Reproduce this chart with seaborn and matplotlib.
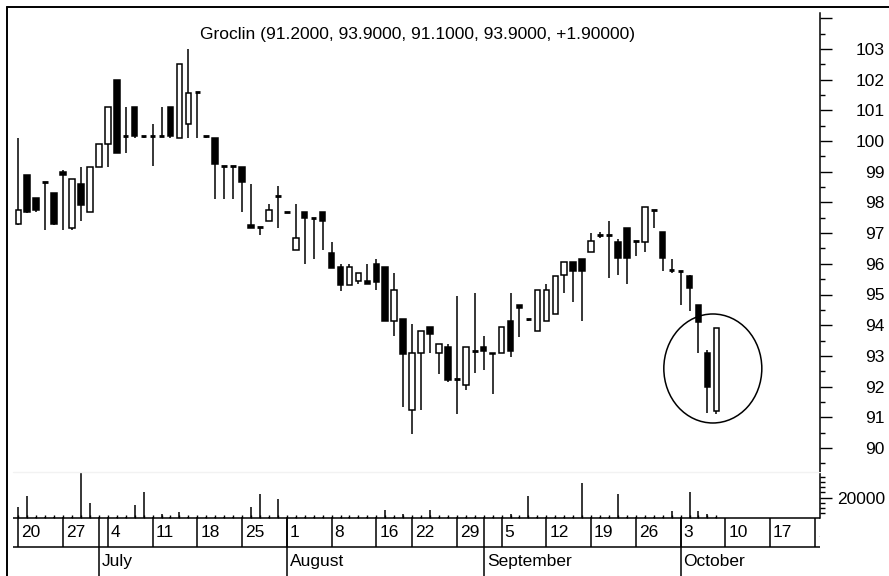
import numpy as np
import matplotlib
matplotlib.use("Agg")
import matplotlib.pyplot as plt
from matplotlib.patches import Rectangle, Ellipse
from matplotlib.lines import Line2D
from matplotlib.transforms import offset_copy
from matplotlib import font_manager
import seaborn as sns

# ---------------- data (trading days from 20 June) ----------------
opens = [97.3, 98.9, 98.15, 98.65, 98.3, 99.0, 97.15, 98.6, 97.7, 99.15,
         99.9, 102.0, 100.15, 101.1, 100.15, 100.15, 100.15, 101.1, 100.1, 100.55,
         101.6, 100.15, 100.1, 99.2, 99.2, 99.15, 97.25, 97.2, 97.4, 98.2,
         97.7, 96.45, 97.7, 97.5, 97.7, 96.35, 95.9, 95.3, 95.45, 95.45,
         96.0, 95.9, 94.15, 94.2, 91.25, 93.1, 93.95, 93.1, 93.3, 92.25,
         92.05, 93.15, 93.3, 93.1, 93.1, 94.15, 94.65, 94.2, 93.8, 94.15,
         94.35, 95.65, 96.05, 96.15, 96.4, 96.95, 96.95, 96.7, 97.15, 96.75,
         96.7, 97.75, 97.05, 95.8, 95.75, 95.6, 94.65, 93.1, 91.2]
highs = [100.1, 98.9, 98.15, 98.65, 98.3, 99.05, 98.75, 99.15, 99.15, 99.9,
         101.1, 102.0, 101.1, 101.1, 100.15, 100.55, 101.1, 101.1, 102.5, 103.0,
         101.6, 100.15, 100.1, 99.2, 99.2, 99.15, 98.6, 97.2, 97.95, 98.55,
         97.7, 97.95, 97.7, 97.5, 97.7, 96.7, 96.0, 96.0, 95.7, 96.0,
         96.15, 95.9, 95.7, 94.2, 94.05, 93.8, 93.95, 93.4, 93.4, 94.95,
         93.3, 95.05, 93.65, 93.1, 93.95, 95.05, 94.65, 94.2, 95.15, 95.35,
         95.6, 96.05, 96.05, 96.15, 97.0, 97.05, 97.4, 96.8, 97.15, 96.75,
         97.85, 97.75, 97.05, 96.15, 95.75, 95.65, 94.65, 93.2, 93.9]
lows = [97.25, 97.65, 97.7, 97.1, 97.25, 97.1, 97.1, 97.4, 97.7, 99.15,
        99.15, 99.6, 99.6, 100.1, 100.1, 99.2, 100.15, 100.1, 100.1, 100.1,
        100.1, 100.1, 98.1, 98.1, 98.1, 97.7, 97.15, 96.95, 97.4, 97.15,
        97.65, 96.45, 96.0, 96.15, 96.45, 95.85, 95.1, 95.3, 95.35, 95.35,
        95.15, 94.15, 93.65, 91.35, 90.45, 91.25, 93.1, 92.4, 92.15, 91.1,
        91.9, 92.45, 92.55, 91.75, 93.1, 92.95, 93.6, 94.15, 93.8, 94.15,
        94.35, 95.05, 94.75, 94.15, 96.4, 96.85, 95.55, 95.65, 95.35, 96.25,
        96.4, 97.15, 95.75, 95.7, 94.65, 94.45, 93.1, 91.15, 91.1]
closes = [97.75, 97.7, 97.75, 98.65, 97.3, 98.9, 98.75, 97.9, 99.15, 99.9,
          101.1, 99.6, 100.15, 100.15, 100.15, 100.15, 100.15, 100.15, 102.5, 101.55,
          101.6, 100.15, 99.25, 99.2, 99.2, 98.65, 97.15, 97.2, 97.75, 98.2,
          97.7, 96.85, 97.5, 97.5, 97.4, 95.85, 95.3, 95.9, 95.7, 95.35,
          95.4, 94.15, 95.15, 93.05, 93.1, 93.8, 93.7, 93.4, 92.2, 92.25,
          93.3, 93.15, 93.15, 93.05, 93.95, 93.15, 94.55, 94.2, 95.15, 95.15,
          95.6, 96.05, 95.75, 95.75, 96.75, 96.95, 96.95, 96.2, 96.2, 96.75,
          97.85, 97.75, 96.2, 95.8, 95.75, 95.2, 94.1, 92.0, 93.9]
volumes = [10700, 21700, 1000, 1000, 1000, 1000, 1000, 44500, 14600, 1000,
           1000, 1000, 1000, 13000, 25400, 1000, 4200, 1000, 6100, 1000,
           1000, 1000, 1000, 1000, 1000, 1000, 11000, 23700, 1000, 18500,
           1000, 1000, 1000, 1000, 1000, 1000, 1000, 1000, 1000, 1000,
           1000, 8100, 1000, 3900, 1000, 1000, 8100, 1000, 1000, 1000,
           1000, 1000, 1000, 1000, 1000, 4200, 1000, 21700, 1000, 1000,
           1000, 1000, 1000, 34100, 1000, 1000, 1000, 23700, 1000, 1000,
           1000, 1000, 1000, 6500, 1000, 25400, 6500, 3900, 1000]

week_pos = [0, 5, 10, 15, 20, 25, 30, 35, 40, 44, 49, 54, 59, 64, 69, 74, 79, 84, 89]
week_labels = ["20", "27", "4", "11", "18", "25", "1", "8", "16", "22", "29",
               "5", "12", "19", "26", "3", "10", "17", "24"]
month_pos = [9, 30, 52, 74]
month_labels = ["July", "August", "September", "October"]

title = "Groclin (91.2000, 93.9000, 91.1000, 93.9000, +1.90000)"

# ---------------- style ----------------
sns.set_theme(style="white")
names = {f.name for f in font_manager.fontManager.ttflist}
narrow = "Liberation Sans Narrow" in names
family = "Liberation Sans Narrow" if narrow else "Liberation Sans"
plt.rcParams["font.family"] = [family, "DejaVu Sans"]
fs = 15 if narrow else 12.5
LW = 1.1

W, H = 889, 576
fig = plt.figure(figsize=(W / 100, H / 100), dpi=100)


def fx(px):
    return px / W


def fy(py):
    return 1 - py / H


def right_axis(ax):
    # keep only the right spine, ticks pointing out to the right
    for side in ["left", "top", "bottom"]:
        ax.spines[side].set_visible(False)
    ax.spines["right"].set_visible(True)
    ax.spines["right"].set_color("black")
    ax.spines["right"].set_linewidth(LW)
    ax.yaxis.set_ticks_position("right")
    ax.tick_params(axis="y", which="major", direction="out", length=8.4, width=1.0,
                   pad=38.4, labelsize=fs, colors="black",
                   right=True, left=False, labelright=True, labelleft=False)
    ax.tick_params(axis="y", which="minor", direction="out", length=3.6, width=1.0,
                   colors="black", right=True, left=False)
    for lbl in ax.get_yticklabels():
        lbl.set_horizontalalignment("right")


# pixel geometry of the day axis and price axis
X0, DX = 18.3, 8.95
Y90, PX = 448.0, 30.7
L_PX, R_PX = 7, 820
xlim = ((L_PX - X0) / DX, (R_PX - X0) / DX)
x_line0 = (13 - X0) / DX

# ---------------- price panel ----------------
ax_p = fig.add_axes([fx(L_PX), fy(472), fx(R_PX - L_PX), (472 - 7) / H])
ax_p.set_xlim(*xlim)
ax_p.set_ylim(90 - (472 - Y90) / PX, 90 + (Y90 - 7) / PX)

idx = np.arange(len(opens))
bw = 0.62
ax_p.vlines(idx, lows, highs, color="black", lw=LW, zorder=2)
for i, (o, c) in enumerate(zip(opens, closes)):
    lo, hi = min(o, c), max(o, c)
    if hi - lo < 0.03:
        ax_p.hlines(o, i - bw / 2, i + bw / 2, color="black", lw=2.0, zorder=3)
    else:
        ax_p.add_patch(Rectangle((i - bw / 2, lo), bw, hi - lo,
                                 facecolor="white" if c > o else "black",
                                 edgecolor="black", lw=LW, zorder=3))

# circle round the last candles
ax_p.add_patch(Ellipse((77.6, 92.59), 98 / DX, 109 / PX, fill=False,
                       edgecolor="black", lw=LW, zorder=4))

ax_p.set_xticks([])
ax_p.set_yticks(range(90, 105))
ax_p.set_yticks(np.arange(89.5, 104.5, 1.0), minor=True)
ax_p.set_yticklabels([str(v) if v < 104 else "" for v in range(90, 105)])
right_axis(ax_p)
ax_p.spines["right"].set_bounds(ax_p.get_ylim()[0], 90 + (Y90 - 13) / PX)

# ---------------- volume panel ----------------
ax_v = fig.add_axes([fx(L_PX), fy(518), fx(R_PX - L_PX), 46 / H])
ax_v.set_xlim(*xlim)
ax_v.set_ylim(0, 44900)
ax_v.vlines(idx, 0, volumes, color="black", lw=LW)
ax_v.set_yticks([20000])
ax_v.set_yticks(np.arange(5000, 44000, 5000), minor=True)
right_axis(ax_v)
ax_v.set_xticks(idx)
ax_v.tick_params(axis="x", which="major", direction="in", length=2.0, width=1.0,
                 labelbottom=False, colors="black", bottom=True, top=False)

# ---------------- date axis ----------------
ax_d = fig.add_axes([fx(L_PX), 0, fx(R_PX - L_PX), 58 / H])
ax_d.set_xlim(*xlim)
ax_d.set_ylim(0, 2)
ax_d.axis("off")
ax_d.hlines([1, 2], x_line0, xlim[1], color="black", lw=LW, clip_on=False)
ax_d.vlines(week_pos, 1, 2, color="black", lw=LW, clip_on=False)
ax_d.vlines(month_pos, 0, 2, color="black", lw=LW, clip_on=False)
tr = offset_copy(ax_d.transData, fig=fig, x=3, y=0, units="dots")
for p, lab in zip(week_pos, week_labels):
    ax_d.text(p, 1.5, lab, transform=tr, ha="left", va="center", fontsize=fs,
              color="black", clip_on=True)
for p, lab in zip(month_pos, month_labels):
    ax_d.text(p, 0.5, lab, transform=tr, ha="left", va="center", fontsize=fs,
              color="black", clip_on=True)

# ---------------- frame, separator, title ----------------
fig.add_artist(Line2D([fx(7), fx(7)], [fy(7), 0], transform=fig.transFigure,
                      color="black", lw=1.4))
fig.add_artist(Line2D([fx(7), 1], [fy(7), fy(7)], transform=fig.transFigure,
                      color="black", lw=1.4))
fig.add_artist(Line2D([fx(13), fx(R_PX)], [fy(472), fy(472)], transform=fig.transFigure,
                      color="#f2f2f2", lw=1.0))
fig.text(fx(418), fy(34), title, ha="center", va="center", fontsize=fs, color="black")

fig.savefig("out.png", dpi=100)
